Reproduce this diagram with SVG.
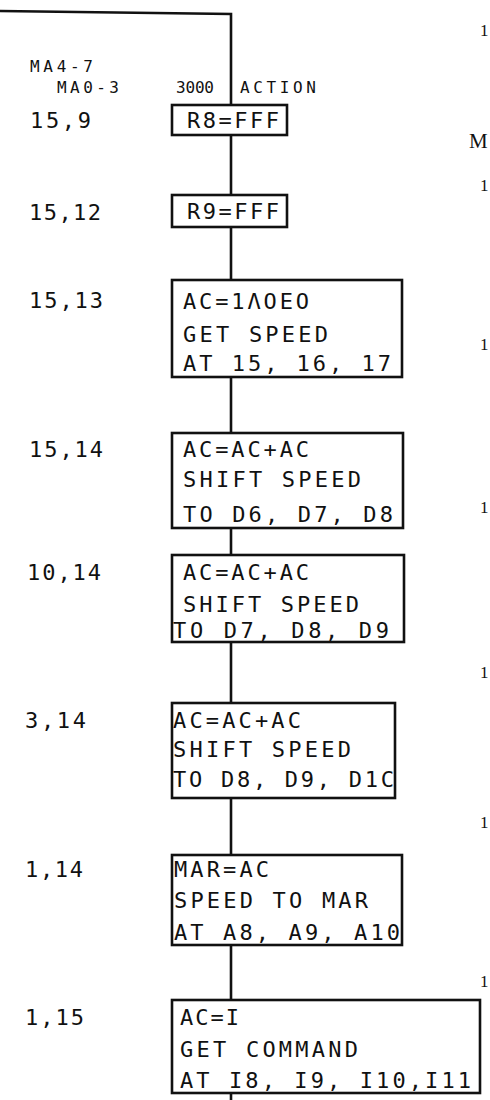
<svg xmlns="http://www.w3.org/2000/svg" width="490" height="1100" viewBox="0 0 490 1100">
<style>
.bg{fill:#fff}
.box{fill:#fff;stroke:#111;stroke-width:2.6}
.con{fill:none;stroke:#111;stroke-width:2.6}
.t{font-family:"DejaVu Sans Mono","Liberation Mono",monospace;font-size:22px;fill:#111}
.s{font-family:"DejaVu Sans Mono","Liberation Mono",monospace;font-size:16px;fill:#111}
.m{font-family:"Liberation Serif",serif;font-size:21px;fill:#111}
.e{font-family:"Liberation Serif",serif;font-size:17px;fill:#111}
</style>
<rect class="bg" x="0" y="0" width="490" height="1100"/>
<g id="connectors">
<path class="con" d="M0,11 L231,14 L231,105"/>
<path class="con" d="M231,135 V195"/>
<path class="con" d="M231,227 V280"/>
<path class="con" d="M231,377 V433"/>
<path class="con" d="M231,528 V555"/>
<path class="con" d="M231,642 V703"/>
<path class="con" d="M231,798 V855"/>
<path class="con" d="M231,945 V1000"/>
<path class="con" d="M231,1093 V1100"/>
</g>
<g id="header">
<text class="s" x="30" y="72" textLength="63" lengthAdjust="spacing">MA4-7</text>
<text class="s" x="57" y="93" textLength="62" lengthAdjust="spacing">MA0-3</text>
<text class="s" x="176" y="93" textLength="38" lengthAdjust="spacing">3000</text>
<text class="s" x="240" y="93" textLength="76" lengthAdjust="spacing">ACTION</text>
</g>
<g id="n1">
<text class="t" x="30" y="128" textLength="61" lengthAdjust="spacing">15,9</text>
<rect class="box" x="172" y="105" width="115" height="30"/>
<text class="t" x="187" y="128" textLength="92" lengthAdjust="spacing">R8=FFF</text>
</g>
<g id="n2">
<text class="t" x="29" y="220" textLength="72" lengthAdjust="spacing">15,12</text>
<rect class="box" x="172" y="195" width="115" height="32"/>
<text class="t" x="187" y="219" textLength="92" lengthAdjust="spacing">R9=FFF</text>
</g>
<g id="n3">
<text class="t" x="29" y="308" textLength="74" lengthAdjust="spacing">15,13</text>
<rect class="box" x="172" y="280" width="230" height="97"/>
<text class="t" x="183" y="309" textLength="126" lengthAdjust="spacing">AC=1ΛOEO</text>
<text class="t" x="183" y="342" textLength="145" lengthAdjust="spacing">GET SPEED</text>
<text class="t" x="183" y="371" textLength="208" lengthAdjust="spacing">AT 15, 16, 17</text>
</g>
<g id="n4">
<text class="t" x="29" y="457" textLength="74" lengthAdjust="spacing">15,14</text>
<rect class="box" x="172" y="433" width="231" height="95"/>
<text class="t" x="183" y="457" textLength="126" lengthAdjust="spacing">AC=AC+AC</text>
<text class="t" x="183" y="487" textLength="178" lengthAdjust="spacing">SHIFT SPEED</text>
<text class="t" x="183" y="522" textLength="210" lengthAdjust="spacing">TO D6, D7, D8</text>
</g>
<g id="n5">
<text class="t" x="27" y="580" textLength="74" lengthAdjust="spacing">10,14</text>
<rect class="box" x="172" y="555" width="232" height="87"/>
<text class="t" x="183" y="580" textLength="126" lengthAdjust="spacing">AC=AC+AC</text>
<text class="t" x="183" y="612" textLength="176" lengthAdjust="spacing">SHIFT SPEED</text>
<text class="t" x="173" y="638" textLength="216" lengthAdjust="spacing">TO D7, D8, D9</text>
</g>
<g id="n6">
<text class="t" x="25" y="728" textLength="61" lengthAdjust="spacing">3,14</text>
<rect class="box" x="172" y="703" width="223" height="95"/>
<text class="t" x="173" y="728" textLength="128" lengthAdjust="spacing">AC=AC+AC</text>
<text class="t" x="173" y="757" textLength="178" lengthAdjust="spacing">SHIFT SPEED</text>
<text class="t" x="173" y="787" textLength="221" lengthAdjust="spacing">TO D8, D9, D1C</text>
</g>
<g id="n7">
<text class="t" x="25" y="877" textLength="58" lengthAdjust="spacing">1,14</text>
<rect class="box" x="172" y="855" width="230" height="90"/>
<text class="t" x="174" y="877" textLength="95" lengthAdjust="spacing">MAR=AC</text>
<text class="t" x="174" y="908" textLength="194" lengthAdjust="spacing">SPEED TO MAR</text>
<text class="t" x="174" y="940" textLength="226" lengthAdjust="spacing">AT A8, A9, A10</text>
</g>
<g id="n8">
<text class="t" x="25" y="1025" textLength="59" lengthAdjust="spacing">1,15</text>
<rect class="box" x="172" y="1000" width="308" height="93"/>
<text class="t" x="180" y="1025" textLength="59" lengthAdjust="spacing">AC=I</text>
<text class="t" x="180" y="1057" textLength="178" lengthAdjust="spacing">GET COMMAND</text>
<text class="t" x="180" y="1088" textLength="291" lengthAdjust="spacing">AT I8, I9, I10,I11</text>
</g>
<g id="edge">
<text class="m" x="469" y="148">M</text>
<text class="e" x="480" y="36">1</text>
<text class="e" x="480" y="191">1</text>
<text class="e" x="480" y="350">1</text>
<text class="e" x="480" y="513">1</text>
<text class="e" x="480" y="678">1</text>
<text class="e" x="480" y="828">1</text>
<text class="e" x="480" y="987">1</text>
</g>
</svg>
